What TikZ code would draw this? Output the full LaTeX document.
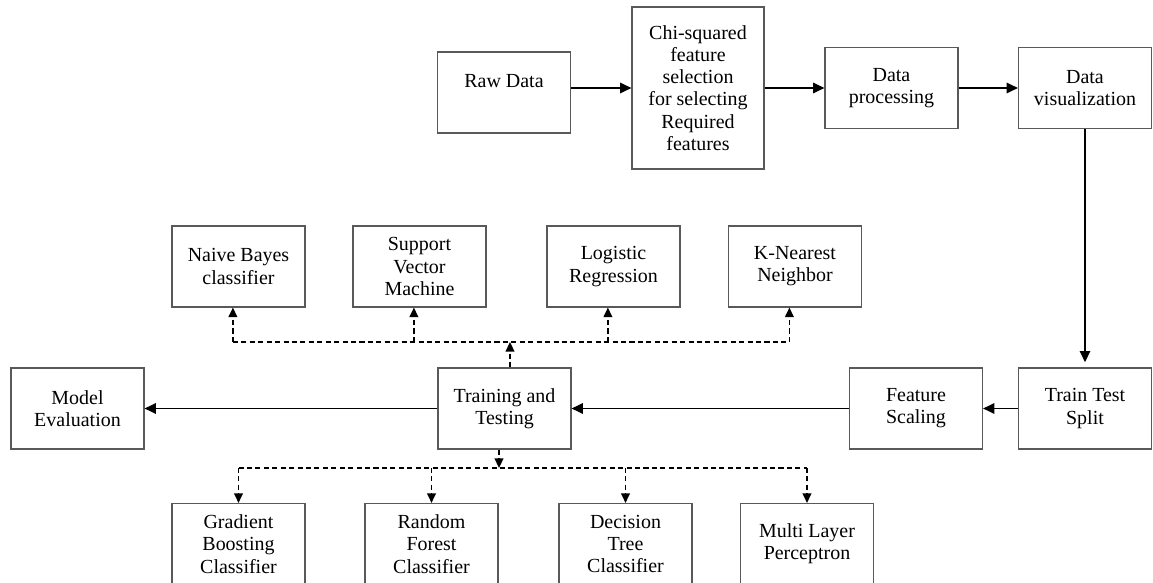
\documentclass[tikz,border=0pt]{standalone}
\usepackage{fontspec}
\setmainfont{Liberation Serif}
\usetikzlibrary{arrows.meta}

\begin{document}
\begin{tikzpicture}[x=0.025cm,y=-0.025cm,
    box/.style={draw=black!65,line width=0.8pt,minimum width=3.325cm,minimum height=2.025cm,
      align=center,inner sep=2pt,font=\fontsize{14.2}{15.8}\selectfont},
    flow/.style={-{Triangle[length=0.28cm,width=0.26cm]},line width=1pt},
    branch/.style={-{Triangle[length=0.24cm,width=0.22cm]},line width=1pt,dash pattern=on 3.6pt off 2.4pt},
    bus/.style={line width=1pt,dash pattern=on 3.6pt off 2.4pt}]
    \useasboundingbox (0,0) rectangle (1153,583);

    % pipeline, top row
    \node[box] (raw) at (504,92.5) {Raw Data\\~};
    \node[box,minimum width=3.3cm,minimum height=4.05cm] (chi) at (698,88)
      {Chi-squared\\feature\\selection\\for selecting\\Required\\features};
    \node[box] (dp) at (891.5,88) {Data\\processing};
    \node[box] (dv) at (1085,88) {Data\\visualization};

    % middle row
    \node[box] (tts) at (1085,408.5) {Train Test\\Split};
    \node[box] (fs) at (916,408.5) {Feature\\Scaling};
    \node[box] (train) at (504.5,408.5) {Training and\\Testing};
    \node[box] (eval) at (77.5,408.5) {Model\\Evaluation};

    % classifiers above
    \node[box] (nb) at (238.5,266.5) {Naive Bayes\\classifier};
    \node[box] (svm) at (419.5,266.5) {Support\\Vector\\Machine};
    \node[box] (lr) at (613.5,266.5) {Logistic\\Regression};
    \node[box] (knn) at (795,266.5) {K-Nearest\\Neighbor};

    % classifiers below
    \node[box] (gb) at (238.5,544) {Gradient\\Boosting\\Classifier};
    \node[box] (rf) at (431.5,544) {Random\\Forest\\Classifier};
    \node[box] (dt) at (625.5,544) {Decision\\Tree\\Classifier};
    \node[box] (mlp) at (807,544) {Multi Layer\\Perceptron};

    \draw[flow] (raw.east |- chi) -- (chi);
    \draw[flow] (chi) -- (dp);
    \draw[flow] (dp) -- (dv);
    \draw[flow,shorten >=0.13cm] (dv) -- (tts);
    \draw[flow] (tts) -- (fs);
    \draw[flow] (fs) -- (train);
    \draw[flow] (train) -- (eval);

    % dashed branches
    \coordinate (upbus) at (510,342);
    \coordinate (downbus) at (499,468);
    \draw[branch] (train.north -| upbus) -- (upbus);
    \draw[bus] ([xshift=-0.14cm]nb.south |- upbus) -- ([xshift=-0.14cm]knn.south |- upbus);
    \foreach \c in {nb,svm,lr,knn}
      \draw[branch] ([xshift=-0.14cm]\c.south |- upbus) -- ([xshift=-0.14cm]\c.south);
    \draw[branch] (train.south -| downbus) -- (downbus);
    \draw[bus] (gb.north |- downbus) -- (mlp.north |- downbus);
    \foreach \c in {gb,rf,dt,mlp}
      \draw[branch] (\c.north |- downbus) -- (\c.north);
\end{tikzpicture}
\end{document}
